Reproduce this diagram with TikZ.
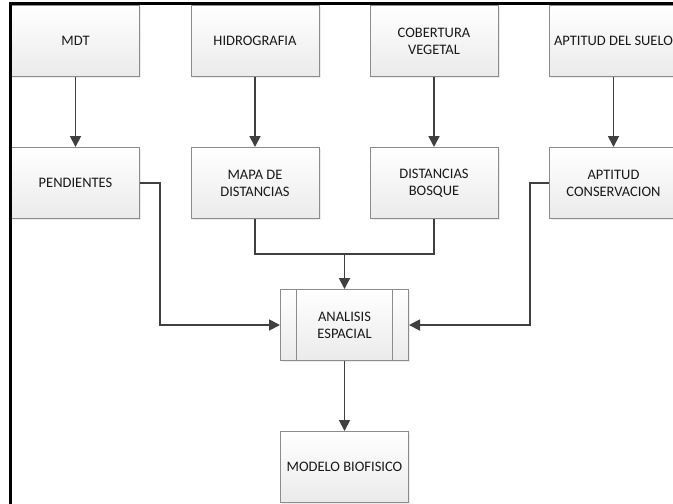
\documentclass[tikz,border=0pt]{standalone}
\usepackage{fontspec}
\setmainfont{Carlito}
\usetikzlibrary{arrows.meta, calc, shadows}
\definecolor{gristrazo}{HTML}{404040}
\definecolor{borde}{HTML}{8C8C8C}
\tikzstyle{caja} = [
    rectangle,
    minimum width=128pt,
    minimum height=71pt,
    align=center,
    draw=borde,
    line width=1pt,
    top color=white,
    bottom color=black!8,
    drop shadow={shadow xshift=1.5pt, shadow yshift=-1.5pt, opacity=0.15},
    font=\fontsize{14.5}{17}\selectfont,
    text=black!90
]
\tikzstyle{proceso} = [
    caja,
    path picture={
        \draw [borde, line width=1pt]
            ([xshift=16pt]path picture bounding box.north west) --
            ([xshift=16pt]path picture bounding box.south west);
        \draw [borde, line width=1pt]
            ([xshift=-16pt]path picture bounding box.north east) --
            ([xshift=-16pt]path picture bounding box.south east);
    }
]
\tikzstyle{conector} = [draw=gristrazo, line width=1.8pt]
\tikzstyle{flecha} = [conector, -{Triangle[length=11pt,width=11pt]}]

\begin{document}
\begin{tikzpicture}[node distance=142pt]

\useasboundingbox (0,0) rectangle (673pt,-504pt);
\clip (0,0) rectangle (673pt,-504pt);

\node (mdt) [caja] at (75.5pt,-41pt) {MDT};
\node (hidro) [caja, right of=mdt, node distance=179.5pt] {HIDROGRAFIA};
\node (cober) [caja, right of=hidro, node distance=179pt] {COBERTURA\\VEGETAL};
\node (suelo) [caja, right of=cober, node distance=179.5pt] {APTITUD DEL SUELO};

\node (pend) [caja, below of=mdt] {PENDIENTES};
\node (mapa) [caja, below of=hidro] {MAPA DE\\DISTANCIAS};
\node (bosque) [caja, below of=cober] {DISTANCIAS\\BOSQUE};
\node (conser) [caja, below of=suelo] {APTITUD\\CONSERVACION};

\node (analisis) [proceso, below of=mapa, xshift=89.5pt] {ANALISIS\\ESPACIAL};
\node (modelo) [caja, below of=analisis] {MODELO BIOFISICO};

\coordinate (union) at ($(mapa.south)!0.5!(bosque.south) + (0,-35pt)$);

\draw [flecha] (mdt) -- (pend);
\draw [flecha] (hidro) -- (mapa);
\draw [flecha] (cober) -- (bosque);
\draw [flecha] (suelo) -- (conser);

\draw [conector] (mapa.south) |- (union) -| (bosque.south);
\draw [flecha] (union) -- (analisis);
\draw [flecha] (pend.east) -- ++(20pt,0) |- (analisis.west);
\draw [flecha] (conser.west) -- ++(-19pt,0) |- (analisis.east);
\draw [flecha] (analisis) -- (modelo);

% marco
\draw [black, line width=3pt] (10.5pt,-504pt) -- (10.5pt,-3pt) -- (673pt,-3pt);

\end{tikzpicture}
\end{document}
